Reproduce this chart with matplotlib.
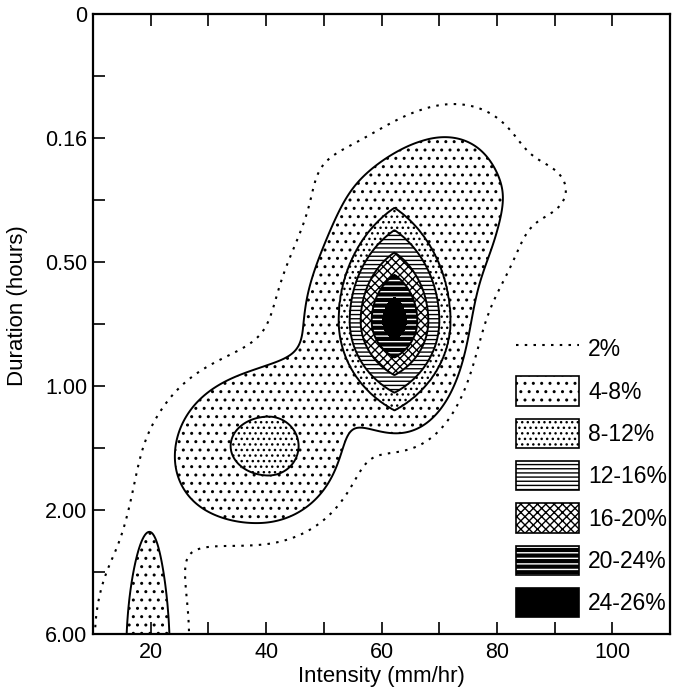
import numpy as np
import matplotlib
matplotlib.use("Agg")
import matplotlib.pyplot as plt
from matplotlib.patches import Patch
from matplotlib.lines import Line2D

plt.rcParams['font.family'] = ['Liberation Sans', 'DejaVu Sans']
plt.rcParams['hatch.linewidth'] = 1.0

# ---------------- data ----------------
duration_labels = ["0", "0.16", "0.50", "1.00", "2.00", "6.00"]
intensity_ticks = [20, 40, 60, 80, 100]
levels = [2, 4, 8, 12, 16, 20, 24, 26]
band_labels = ["4-8%", "8-12%", "12-16%", "16-20%", "20-24%", "24-26%"]

# main peak (intensity, duration position, top value, fall per mm/hr, vertical scales)
peak_x = 62.25
peak_y = 2.476
peak_top = 28.3
peak_slope = 2.1
peak_up = 0.0945
peak_down = 0.0745

# broad frequency components (intensity, duration position, %, spreads left/right/up/down, tilt)
comp_x   = [66.93, 89.78, 63.81, 50.82, 39.05, 18.44, 19.65, 48.23]
comp_y   = [1.734, 1.427, 2.540, 2.540, 3.508, 5.040, 5.363, 1.169]
comp_amp = [9.0,   1.6,   27.0,  2.6,   11.5,  3.0,   8.0,   0.9]
comp_sxl = [11.43, 4.33,  5.19,  7.79,  9.52,  9.0,   2.0,   6.06]
comp_sxr = [10.74, 4.33,  5.19,  7.79,  8.66,  9.0,   2.0,   6.06]
comp_syu = [0.581, 0.202, 0.411, 0.444, 0.403, 0.887, 0.685, 0.282]
comp_syd = [0.597, 0.202, 0.411, 0.605, 0.403, 0.887, 0.685, 0.282]
comp_rho = [-0.3,  0.0,   0.0,   0.0,   0.0,   0.0,   0.0,   0.0]

# secondary peak (8-12% island)
bump_x, bump_y, bump_amp = 40.43, 3.484, 10.0
bump_sxl, bump_sxr, bump_sy = 9.85, 7.78, 0.355

# ---------------- surface ----------------
gx = np.linspace(5, 115, 551)
gy = np.linspace(-0.5, 6.2, 671)
X, Y = np.meshgrid(gx, gy)

B = np.zeros_like(X)
for cx, cy, a, sxl, sxr, syu, syd, r in zip(comp_x, comp_y, comp_amp, comp_sxl,
                                            comp_sxr, comp_syu, comp_syd, comp_rho):
    u = (X - cx) / np.where(X < cx, sxl, sxr)
    v = (Y - cy) / np.where(Y < cy, syu, syd)
    q = (u * u - 2 * r * u * v + v * v) / (1 - r * r)
    B += a * np.exp(-0.5 * q)
B = np.minimum(B, levels[2] - 0.1)

bu = (X - bump_x) / np.where(X < bump_x, bump_sxl, bump_sxr)
bump = bump_amp * np.exp(-0.5 * (bu ** 2 + ((Y - bump_y) / bump_sy) ** 2))

dx = np.abs(X - peak_x)
dyv = Y - peak_y
v = np.where(dyv < 0, -dyv / peak_up, dyv / peak_down)
d = 1.0
w = v * np.sqrt(1 + 2 * d)
lam = (d * dx + np.sqrt(d * d * dx * dx + (1 + 2 * d) * (dx * dx + w * w))) / (1 + 2 * d)
cone = np.clip(peak_top - peak_slope * lam, 0, levels[-1])
cone = np.where(cone >= 6, cone, 0)

Z = np.maximum(np.maximum(B, bump), cone)

# ---------------- figure ----------------
fig = plt.figure(figsize=(6.82, 6.87), dpi=100)
ax = fig.add_axes([0.1364, 0.0771, 0.846, 0.9025])

styles = [
    ('white', '..', 'black'),
    ('white', '...', 'black'),
    ('white', '----', 'black'),
    ('white', 'xxxx', 'black'),
    ('black', '---', 'white'),
    ('black', None, 'black'),
]
bands = [(lo, hi) + s for lo, hi, s in zip(levels[1:-1], levels[2:], styles)]
for lo, hi, fc, h, hc in bands:
    with plt.rc_context({'hatch.color': hc}):
        ax.contourf(X, Y, Z, levels=[lo, hi], colors=[fc], hatches=[h])

ax.contour(X, Y, Z, levels=levels[:1], colors='black', linewidths=1.5,
           linestyles=[(0, (1.2, 3.0))])
ax.contour(X, Y, Z, levels=levels[1:6], colors='black', linewidths=1.4)

ax.set_xlim(10, 110)
ax.set_ylim(5, 0)
ax.set_xticks(intensity_ticks)
ax.set_xticks([30, 50, 70, 90], minor=True)
ax.set_yticks(range(len(duration_labels)))
ax.set_yticklabels(duration_labels)
ax.set_yticks([0.5, 1.5, 2.5, 3.5, 4.5], minor=True)
ax.tick_params(which='both', direction='in', length=8.5, width=1.2,
               top=True, right=False, labelsize=15.5)
ax.tick_params(axis='x', pad=6)
ax.tick_params(axis='y', pad=4)
for s in ax.spines.values():
    s.set_linewidth(1.6)

ax.set_xlabel("Intensity (mm/hr)", fontsize=16, labelpad=2)
ax.set_ylabel("Duration (hours)", fontsize=16)
ax.yaxis.set_label_coords(-0.112, 0.53)

handles = [Line2D([], [], color='black', lw=1.5, linestyle=(0, (1.2, 3.0)))]
for lo, hi, fc, h, hc in bands:
    if fc == 'black' and h:
        handles.append((Patch(facecolor='black', edgecolor='white', lw=0, hatch=h),
                        Patch(facecolor='none', edgecolor='black', lw=1.2)))
    else:
        handles.append(Patch(facecolor=fc, edgecolor='black', lw=1.2, hatch=h))
labels = ["2%"] + band_labels
ax.legend(handles, labels, loc='lower left', bbox_to_anchor=(0.733, 0.027),
          frameon=False, fontsize=16.5, handlelength=2.75, handleheight=1.6,
          labelspacing=0.56, handletextpad=0.4, borderpad=0, borderaxespad=0)

fig.savefig("out.png", dpi=100)
